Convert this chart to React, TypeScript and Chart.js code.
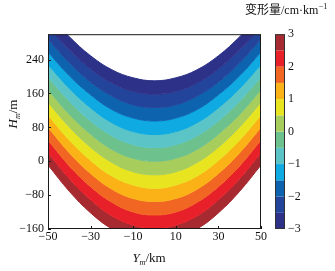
import React, { useEffect, useRef } from "react";
import { Chart, registerables } from "chart.js";

Chart.register(...registerables);

// Horizontal positions (Y_m, km) where each contour line's height was read
const xPositions = [-50, -40, -30, -20, -10, 0, 10, 20, 30, 40, 50];

// Contour levels (deformation, cm·km⁻¹)
const contourLevels = [-3, -2.5, -2, -1.5, -1, -0.5, 0, 0.5, 1, 1.5, 2, 2.5, 3];

// Height H_m (m) of each contour line at the x positions above
const levelM30 = [347, 294, 249, 216, 197, 190, 197, 216, 249, 294, 347];
const levelM25 = [317, 263, 218, 185, 165, 158, 165, 185, 218, 263, 317];
const levelM20 = [288, 233, 187, 154, 133, 127, 133, 154, 187, 233, 288];
const levelM15 = [258, 202, 157, 122, 102, 95, 102, 122, 157, 202, 258];
const levelM10 = [228, 172, 126, 91, 70, 63, 70, 91, 126, 172, 228];
const levelM05 = [199, 142, 95, 60, 39, 32, 39, 60, 95, 142, 199];
const level00 = [169, 111, 64, 28, 7, 0, 7, 28, 64, 111, 169];
const levelP05 = [139, 81, 33, -3, -25, -32, -25, -3, 33, 81, 139];
const levelP10 = [109, 50, 2, -35, -56, -64, -56, -35, 2, 50, 109];
const levelP15 = [80, 20, -29, -66, -88, -95, -88, -66, -29, 20, 80];
const levelP20 = [50, -11, -60, -97, -120, -127, -120, -97, -60, -11, 50];
const levelP25 = [20, -41, -91, -129, -151, -159, -151, -129, -91, -41, 20];
const levelP30 = [-9, -71, -122, -160, -183, -190, -183, -160, -122, -71, -9];

const contourLines = [
  levelM30, levelM25, levelM20, levelM15, levelM10, levelM05, level00,
  levelP05, levelP10, levelP15, levelP20, levelP25, levelP30,
];

// Colour of each band, from (-3,-2.5) up to (2.5,3)
const bandColors = [
  "#2e3188", "#22449b", "#0e63af", "#0eaae1", "#5bc4c7", "#6dc18d",
  "#a7cd5d", "#e8e420", "#fbb217", "#f26623", "#e8202a", "#a62a30",
];

const xTicks = [-50, -30, -10, 10, 30, 50];
const yTicks = [-160, -80, 0, 80, 160, 240];
const cbTicks = [-3, -2, -1, 0, 1, 2, 3];

const SERIF = '"Liberation Serif", "Times New Roman", serif';
const fmt = (v: number) => (v < 0 ? "\u2212" + Math.abs(v) : String(v));

const decorPlugin = {
  id: "decor",
  afterDraw(chart: any) {
    const { ctx, chartArea: a, scales } = chart;
    ctx.save();
    // frame
    ctx.strokeStyle = "#1a1a1a";
    ctx.lineWidth = 1;
    ctx.strokeRect(a.left + 0.5, a.top + 0.5, a.right - a.left - 1, a.bottom - a.top - 1);
    // inward tick marks
    ctx.beginPath();
    xTicks.forEach((v) => {
      const px = Math.round(scales.x.getPixelForValue(v)) + 0.5;
      ctx.moveTo(px, a.bottom);
      ctx.lineTo(px, a.bottom - 3);
    });
    yTicks.forEach((v) => {
      const py = Math.round(scales.y.getPixelForValue(v)) + 0.5;
      ctx.moveTo(a.left, py);
      ctx.lineTo(a.left + 3, py);
    });
    ctx.stroke();

    // colour bar
    const cb = scales.cb;
    const x0 = cb.left + 14;
    const w = 10;
    for (let j = 0; j < bandColors.length; j++) {
      const y1 = cb.getPixelForValue(contourLevels[j]);
      const y2 = cb.getPixelForValue(contourLevels[j + 1]);
      ctx.fillStyle = bandColors[j];
      ctx.fillRect(x0, y2, w, y1 - y2);
    }
    ctx.strokeStyle = "#333";
    ctx.strokeRect(x0 + 0.5, cb.getPixelForValue(3) + 0.5, w - 1, cb.getPixelForValue(-3) - cb.getPixelForValue(3) - 1);

    ctx.fillStyle = "#111";
    ctx.textBaseline = "alphabetic";
    ctx.textAlign = "left";

    // x title: Y_m/km
    {
      const f1 = "italic 13px " + SERIF;
      const f2 = "italic 8px " + SERIF;
      const f3 = "13px " + SERIF;
      ctx.font = f1; const w1 = ctx.measureText("Y").width;
      ctx.font = f2; const w2 = ctx.measureText("m").width;
      ctx.font = f3; const w3 = ctx.measureText("/km").width;
      const total = w1 + w2 + w3;
      let x = 149 - total / 2;
      const base = 262;
      ctx.font = f1; ctx.fillText("Y", x, base); x += w1;
      ctx.font = f2; ctx.fillText("m", x, base + 3); x += w2;
      ctx.font = f3; ctx.fillText("/km", x, base);
    }
    // y title: H_m/m (rotated)
    {
      const f1 = "italic 13px " + SERIF;
      const f2 = "italic 8px " + SERIF;
      const f3 = "13px " + SERIF;
      ctx.font = f1; const w1 = ctx.measureText("H").width;
      ctx.font = f2; const w2 = ctx.measureText("m").width;
      ctx.font = f3; const w3 = ctx.measureText("/m").width;
      const total = w1 + w2 + w3;
      ctx.save();
      ctx.translate(17, 114 + total / 2);
      ctx.rotate(-Math.PI / 2);
      let x = 0;
      ctx.font = f1; ctx.fillText("H", x, 0); x += w1;
      ctx.font = f2; ctx.fillText("m", x, 3); x += w2;
      ctx.font = f3; ctx.fillText("/m", x, 0);
      ctx.restore();
    }
    // colour bar title
    {
      const fc = '12px "Noto Sans CJK SC", sans-serif';
      const fl = "12px " + SERIF;
      const fs = "8px " + SERIF;
      let x = 245;
      const base = 14;
      ctx.font = fc; ctx.fillText("变形量", x, base); x += ctx.measureText("变形量").width;
      ctx.font = fl; ctx.fillText("/cm·km", x, base); x += ctx.measureText("/cm·km").width;
      ctx.font = fs; ctx.fillText("\u22121", x + 0.5, base - 5);
    }
    ctx.restore();
  },
};

export default function App() {
  const ref = useRef<HTMLCanvasElement | null>(null);

  useEffect(() => {
    if (!ref.current) return;
    const datasets = contourLines.map((hs, i) => ({
      label: "level " + contourLevels[i],
      data: xPositions.map((x, k) => ({ x, y: hs[k] })),
      borderColor: bandColors[Math.max(i - 1, 0)],
      borderWidth: 1,
      backgroundColor: bandColors[Math.max(i - 1, 0)],
      fill: i === 0 ? false : "-1",
      pointRadius: 0,
      tension: 0.4,
    }));

    const tickFont = { family: SERIF, size: 12 };
    const noGrid = { display: false, drawTicks: false, tickLength: 0 };
    const chart = new Chart(ref.current, {
      type: "line",
      data: { datasets: datasets as any },
      plugins: [decorPlugin],
      options: {
        animation: false,
        responsive: false,
        devicePixelRatio: 1,
        layout: { padding: { top: 23, left: 0, right: 0, bottom: 0 } },
        elements: { line: { capBezierPoints: false } },
        plugins: { legend: { display: false }, tooltip: { enabled: false } },
        scales: {
          x: {
            type: "linear",
            position: "bottom",
            min: -50,
            max: 50,
            grid: noGrid,
            border: { display: false },
            ticks: { font: tickFont, color: "#111", padding: 1, callback: (v: any) => fmt(Number(v)) },
            afterBuildTicks: (s: any) => { s.ticks = xTicks.map((v) => ({ value: v })); },
            afterFit: (s: any) => { s.height = 42; },
          },
          y: {
            type: "linear",
            position: "left",
            min: -160,
            max: 300,
            grid: noGrid,
            border: { display: false },
            ticks: { font: tickFont, color: "#111", padding: 4, callback: (v: any) => fmt(Number(v)) },
            afterBuildTicks: (s: any) => { s.ticks = yTicks.map((v) => ({ value: v })); },
            afterFit: (s: any) => { s.width = 48; },
          },
          cb: {
            type: "linear",
            position: "right",
            min: -3,
            max: 3,
            grid: noGrid,
            border: { display: false },
            ticks: { font: tickFont, color: "#111", padding: 27, callback: (v: any) => fmt(Number(v)) },
            afterBuildTicks: (s: any) => { s.ticks = cbTicks.map((v) => ({ value: v })); },
            afterFit: (s: any) => { s.width = 74; },
          },
        },
      } as any,
    });
    return () => chart.destroy();
  }, []);

  return (
    <div style={{ position: "absolute", left: 0, top: 0, width: 335, height: 271, background: "#fff" }}>
      <canvas ref={ref} width={335} height={271} style={{ width: 335, height: 271 }} />
    </div>
  );
}
